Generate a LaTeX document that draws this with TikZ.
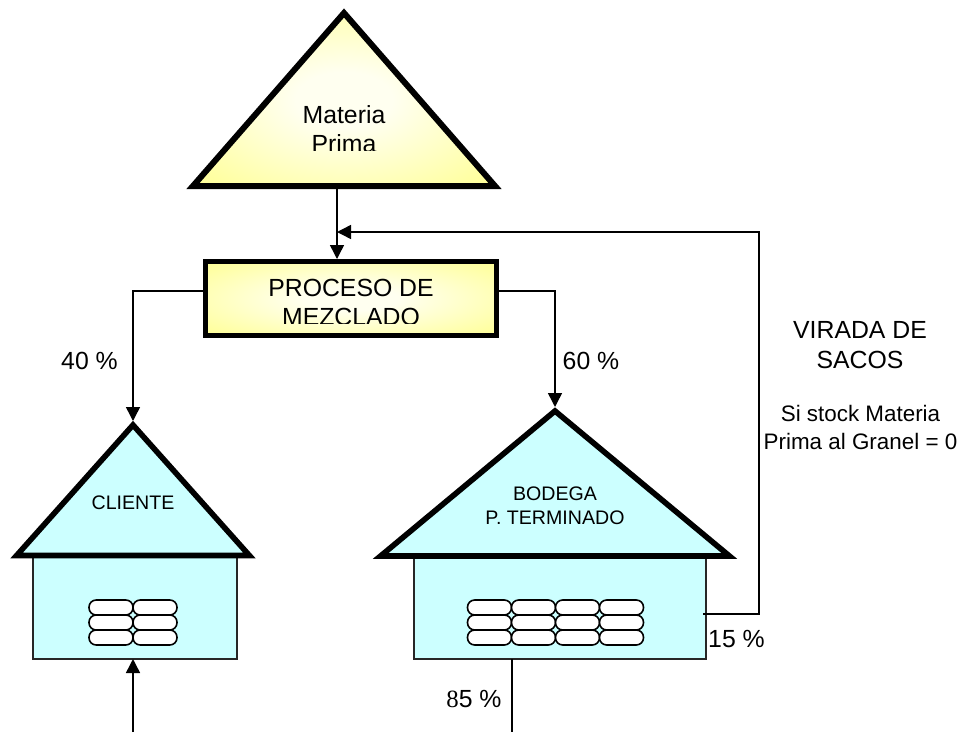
\documentclass[tikz,border=0pt]{standalone}
\usepackage{fontspec}
\setmainfont{Liberation Sans}
\newfontfamily\serifdigit{Liberation Serif}
\usetikzlibrary{arrows.meta}
\definecolor{yelout}{HTML}{FFFF99}
\definecolor{yelin}{HTML}{FFFFF0}
\definecolor{house}{HTML}{CCFFFF}
\pgfdeclareradialshading{yelglow}{\pgfpoint{0bp}{0bp}}{color(0bp)=(yelin); color(8bp)=(yelin); color(34bp)=(yelout); color(50bp)=(yelout)}
\tikzset{
  roofline/.style={draw=black,line width=4.5pt,miter limit=10},
  wall/.style={draw=black!85,line width=1.15pt,fill=house},
  bag/.style={draw=black,line width=1.2pt,fill=white,rounded corners=5.4pt},
  flow/.style={draw=black,line width=1.1pt},
  flowarrow/.style={flow,-{Triangle[length=10.5pt,width=10.5pt]}},
  txt/.style={inner sep=0pt,outer sep=0pt,anchor=base,align=center},
  big/.style={txt,font=\fontsize{18.6}{22.3}\selectfont},
  mid/.style={txt,font=\fontsize{16.8}{21}\selectfont},
  small/.style={txt,font=\fontsize{14.7}{17.3}\selectfont},
}
\begin{document}
\begin{tikzpicture}[x=0.75pt,y=-0.75pt]
\useasboundingbox (0,0) rectangle (964,732);
% named points
\coordinate (rawTop) at (344,13);
\coordinate (rawL) at (193,186);
\coordinate (rawR) at (495,186);
\coordinate (rawOut) at (337,189);
\coordinate (merge) at (337,232);
\coordinate (procIn) at (337,259);
\coordinate (cliTip) at (133,421);
\coordinate (bodTip) at (555,407);
\coordinate (cliBot) at (133,659);
\coordinate (cliEnd) at (133,732);
\coordinate (bodBot) at (512,659);
\coordinate (bodEnd) at (512,732);
\coordinate (bodSide) at (703,614);
\coordinate (backCorner) at (759,614);
\coordinate (backTop) at (759,232);
% raw material
\path[roofline,line width=4.5pt,shading=yelglow] (rawTop) -- (rawR) -- (rawL) -- cycle;
\begin{scope}
\clip (250,90) rectangle (440,150.5);
\node[big] (rawText) at (344,123.3) {Materia};
\node[big] at (344,152) {Prima};
\end{scope}
% process
\node[draw=black,line width=4.2pt,shading=yelglow,minimum width=218.3pt,minimum height=55.5pt,inner sep=0pt,outer sep=0pt] (proc) at (351,298.5) {};
\begin{scope}
\clip (210,270) rectangle (490,323);
\node[big] (procText) at (351,296.7) {PROCESO DE};
\node[big] at (351,325) {MEZCLADO};
\end{scope}
% client house
\path[wall] (33,556) rectangle (237,659);
\path[roofline,line width=4.2pt,fill=house] (133,425) -- (249.4,555.5) -- (16.6,555.5) -- cycle;
\node[small] (cliText) at (133,509) {CLIENTE};
\foreach \r in {600,615,630}
  \foreach \c in {89,133}
    \path[bag] (\c,\r) rectangle ++(44,15);
% warehouse
\path[wall] (414,556) rectangle (706,659);
\path[roofline,line width=4.2pt,fill=house] (555,411) -- (729.4,556) -- (380.6,556) -- cycle;
\node[small] (bodText) at (555,524) {BODEGA\\P. TERMINADO};
\foreach \r in {600,615,630}
  \foreach \c in {467.5,511.5,555.5,599.5}
    \path[bag] (\c,\r) rectangle ++(44,15);
% connectors
\draw[flowarrow] (rawOut) -- (procIn);
\draw[flowarrow] (bodSide) -- (backCorner) -- (backTop) -- (merge);
\draw[flowarrow] (proc.west |- 0,291) -- (133,291) -- (cliTip);
\draw[flowarrow] (proc.east |- 0,291) -- (555,291) -- (bodTip);
\draw[flowarrow] (cliEnd) -- (cliBot);
\draw[flow] (bodBot) -- (bodEnd);
% labels
\node[big] (p40) at (89.5,369) {40 \%};
\node[big] (p60) at (591,369) {60 \%};
\node[big] (p15) at (736.5,647) {15 \%};
\node[big] (p85) at (474,707) {{\serifdigit 8}5 \%};
\node[big] (virada) at (860,368.5) {VIRADA DE\\SACOS};
\node[mid] (stock) at (860.5,449) {Si stock Materia\\Prima al Granel = 0};
\end{tikzpicture}
\end{document}
